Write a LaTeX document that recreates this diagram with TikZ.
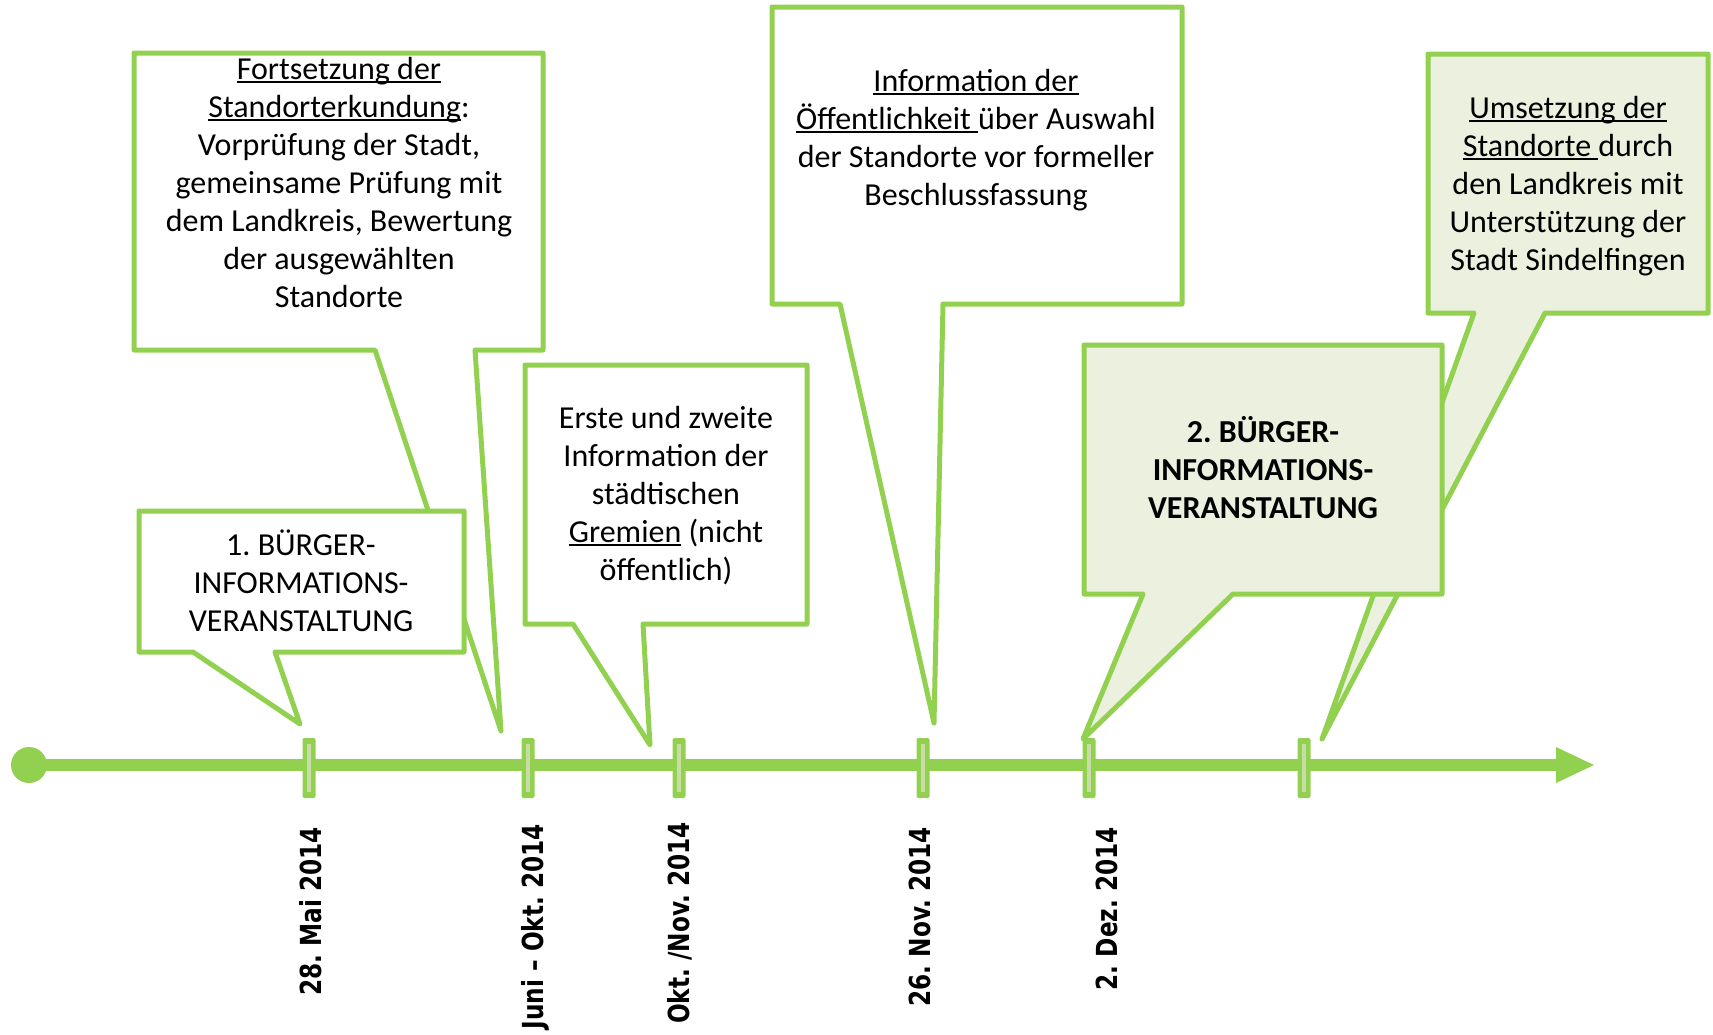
\documentclass[tikz,border=0pt]{standalone}
\usepackage{fontspec}
\setmainfont{Carlito}
\newfontfamily\datefont{DejaVu Sans}
\definecolor{lgreen}{HTML}{92D050}
\definecolor{lfill}{HTML}{EBF1DE}
\definecolor{tickpale}{HTML}{C8DDA6}
\newcommand{\ulx}[1]{\setbox0\hbox{#1}\rlap{\rule[-4pt]{\wd0}{1.6pt}}\box0\relax}
\newcommand{\mlines}[1]{\begin{tabular}[t]{@{}c@{}}#1\end{tabular}}
\newcommand{\datetxt}[1]{\scalebox{0.8}[1]{#1}}
\frenchspacing
\begin{document}
\begin{tikzpicture}[x=1pt,y=-1pt,
  callout/.style={draw=lgreen, line width=5pt, line join=round, fill=white},
  calloutg/.style={callout, fill=lfill},
  boxtext/.style={inner sep=0pt, anchor=base, font=\fontsize{32}{38}\selectfont},
  datelbl/.style={rotate=90, anchor=base east, inner sep=0pt, font=\datefont\bfseries\fontsize{29}{34}\selectfont},
  tickmark/.style={fill=lgreen, minimum width=13pt, minimum height=60pt, inner sep=0pt, rounded corners=2pt}]
\useasboundingbox (0,0) rectangle (1713,1034);

% Box 2: Fortsetzung der Standorterkundung
\draw[callout] (134,53) -- (543,53) -- (543,350) -- (475,350) -- (501,731) -- (375,350) -- (134,350) -- cycle;
\node[boxtext] (b2) at (339,79) {\mlines{\ulx{Fortsetzung der}\\ \ulx{Standorterkundung}:\\ Vorprüfung der Stadt,\\ gemeinsame Prüfung mit\\ dem Landkreis, Bewertung\\ der ausgewählten\\ Standorte}};

% Box 1: 1. Bürger-Informationsveranstaltung
\draw[callout] (139,511) -- (464,511) -- (464,652) -- (275,652) -- (300,724) -- (193,652) -- (139,652) -- cycle;
\node[boxtext] (b1) at (301,555) {\mlines{1. BÜRGER-\\ INFORMATIONS-\\ VERANSTALTUNG}};

% Box 3: Erste und zweite Information
\draw[callout] (525,365) -- (807,365) -- (807,624) -- (643,624) -- (650,745) -- (573,624) -- (525,624) -- cycle;
\node[boxtext] (b3) at (666,428) {\mlines{Erste und zweite\\ Information der\\ städtischen\\ \ulx{Gremien} (nicht\\ öffentlich)}};

% Box 4: Information der Öffentlichkeit
\draw[callout] (772,7) -- (1182,7) -- (1182,304) -- (943,304) -- (934,723) -- (840,304) -- (772,304) -- cycle;
\node[boxtext] (b4) at (976,91) {\mlines{\ulx{Information der}\\ \ulx{Öffentlichkeit }über Auswahl\\ der Standorte vor formeller\\ Beschlussfassung}};

% Box 5: Umsetzung der Standorte
\draw[calloutg] (1428,54) -- (1708,54) -- (1708,313) -- (1545,313) -- (1322,739) -- (1474,313) -- (1428,313) -- cycle;
\node[boxtext] (b5) at (1568,118) {\mlines{\ulx{Umsetzung der}\\ \ulx{Standorte }durch\\ den Landkreis mit\\ Unterstützung der\\ Stadt Sindelfingen}};

% Box 6: 2. Bürger-Informationsveranstaltung
\draw[calloutg] (1084,345) -- (1442,345) -- (1442,594) -- (1233,594) -- (1083,739) -- (1143,594) -- (1084,594) -- cycle;
\node[boxtext, font=\fontsize{32}{38}\selectfont\bfseries] (b6) at (1263,442) {\mlines{2. BÜRGER-\\ INFORMATIONS-\\ VERANSTALTUNG}};

% Timeline
\node[circle, fill=lgreen, minimum size=36pt, inner sep=0pt] (start) at (29,765) {};
\coordinate (lineend) at (1560,765);
\coordinate (tip) at (1594,765);
\draw[lgreen, line width=12pt] (start.center) -- (lineend);
\fill[lgreen] (1556,747) -- (tip) -- (1556,783) -- cycle;

% Ticks
\foreach \n/\x in {t1/309, t2/528, t3/679, t4/923, t5/1089, t6/1304}{
  \node[tickmark] (\n) at (\x,768) {};
  \fill[tickpale] ([xshift=-1.8pt,yshift=-6pt]\n.north) rectangle ([xshift=1.8pt,yshift=6pt]\n.south);
}

% Dates
\node[datelbl] (d1) at (321.6,827) {\datetxt{28. Mai 2014}};
\node[datelbl] (d2) at (543.6,824) {\datetxt{Juni – Okt. 2014}};
\node[datelbl] (d3) at (689,822) {\datetxt{Okt. /Nov. 2014}};
\node[datelbl] (d4) at (930.6,827) {\datetxt{26. Nov. 2014}};
\node[datelbl] (d5) at (1117.6,827) {\datetxt{2. Dez. 2014}};
\end{tikzpicture}
\end{document}
